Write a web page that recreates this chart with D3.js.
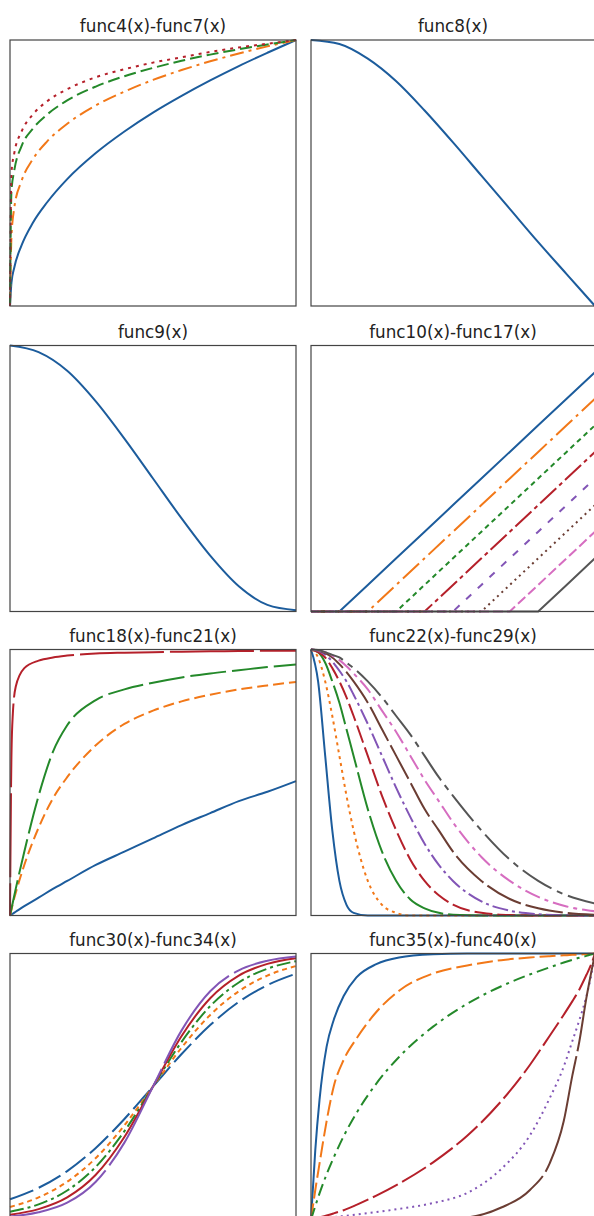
<!DOCTYPE html>
<html>
<head>
<meta charset="utf-8">
<script src="https://cdn.jsdelivr.net/npm/d3@7"></script>
<style>
  body { margin: 0; background: #fff; }
  svg { display: block; }
</style>
</head>
<body>
<svg id="chart" width="594" height="1216"></svg>
<script>
// ---- values (x and y both 0..1) ----

// func4(x)-func7(x)
const p1X   = [0, 0.005, 0.015, 0.04, 0.08, 0.13, 0.2, 0.3, 0.4, 0.5, 0.6, 0.7, 0.8, 0.9, 1];
const func4 = [0, 0.087, 0.145, 0.227, 0.313, 0.39, 0.477, 0.575, 0.656, 0.727, 0.79, 0.848, 0.902, 0.952, 1];
const func5 = [0, 0.26, 0.37, 0.469, 0.552, 0.619, 0.685, 0.754, 0.806, 0.85, 0.887, 0.92, 0.949, 0.976, 1];
const func6 = [0, 0.43, 0.51, 0.6, 0.667, 0.72, 0.773, 0.825, 0.864, 0.895, 0.922, 0.945, 0.965, 0.983, 1];
const func7 = [0, 0.5, 0.575, 0.655, 0.72, 0.77, 0.815, 0.86, 0.89, 0.915, 0.935, 0.955, 0.972, 0.986, 1];

// func8(x), func9(x)
const p2X   = [0, 0.1, 0.2, 0.3, 0.4, 0.5, 0.6, 0.7, 0.8, 0.9, 1];
const func8 = [1, 0.985, 0.93, 0.845, 0.735, 0.615, 0.49, 0.365, 0.24, 0.12, 0];
const func9 = [1, 0.975, 0.905, 0.79, 0.65, 0.5, 0.35, 0.21, 0.095, 0.025, 0.005];

// func10(x)-func17(x)
const p4X    = [0, 0.1, 0.2, 0.3, 0.4, 0.5, 0.6, 0.7, 0.8, 0.9, 1];
const func10 = [0, 0, 0.1, 0.2, 0.3, 0.4, 0.5, 0.6, 0.7, 0.8, 0.9];
const func11 = [0, 0, 0, 0.1, 0.2, 0.3, 0.4, 0.5, 0.6, 0.7, 0.8];
const func12 = [0, 0, 0, 0, 0.1, 0.2, 0.3, 0.4, 0.5, 0.6, 0.7];
const func13 = [0, 0, 0, 0, 0, 0.1, 0.2, 0.3, 0.4, 0.5, 0.6];
const func14 = [0, 0, 0, 0, 0, 0, 0.1, 0.2, 0.3, 0.4, 0.5];
const func15 = [0, 0, 0, 0, 0, 0, 0, 0.1, 0.2, 0.3, 0.4];
const func16 = [0, 0, 0, 0, 0, 0, 0, 0, 0.1, 0.2, 0.3];
const func17 = [0, 0, 0, 0, 0, 0, 0, 0, 0, 0.1, 0.2];

// func18(x)-func21(x)
const p5X    = [0, 0.005, 0.01, 0.02, 0.05, 0.1, 0.15, 0.2, 0.3, 0.4, 0.5, 0.6, 0.7, 0.8, 0.9, 1];
const func18 = [0, 0.004, 0.007, 0.014, 0.035, 0.067, 0.1, 0.13, 0.19, 0.24, 0.29, 0.34, 0.385, 0.43, 0.465, 0.505];
const func19 = [0, 0.022, 0.045, 0.085, 0.19, 0.33, 0.44, 0.52, 0.64, 0.72, 0.77, 0.805, 0.83, 0.85, 0.865, 0.878];
const func20 = [0, 0.025, 0.05, 0.1, 0.24, 0.45, 0.615, 0.715, 0.81, 0.85, 0.875, 0.895, 0.91, 0.922, 0.934, 0.944];
const func21 = [0, 0.6, 0.76, 0.86, 0.93, 0.958, 0.97, 0.977, 0.985, 0.988, 0.99, 0.992, 0.993, 0.994, 0.995, 0.995];

// func22(x)-func29(x)
const p6X    = [0, 0.025, 0.05, 0.075, 0.1, 0.125, 0.15, 0.2, 0.25, 0.3, 0.35, 0.4, 0.45, 0.5, 0.6, 0.7, 0.8, 0.9, 1];
const func22 = [1, 0.88, 0.6, 0.32, 0.13, 0.04, 0.01, 0, 0, 0, 0, 0, 0, 0, 0, 0, 0, 0, 0];
const func23 = [1, 0.97, 0.88, 0.75, 0.6, 0.45, 0.32, 0.13, 0.04, 0.01, 0, 0, 0, 0, 0, 0, 0, 0, 0];
const func24 = [1, 0.99, 0.95, 0.88, 0.8, 0.7, 0.6, 0.4, 0.24, 0.13, 0.06, 0.027, 0.01, 0.003, 0, 0, 0, 0, 0];
const func25 = [1, 0.99, 0.97, 0.93, 0.88, 0.82, 0.75, 0.6, 0.45, 0.32, 0.21, 0.13, 0.076, 0.041, 0.01, 0.002, 0, 0, 0];
const func26 = [1, 0.995, 0.98, 0.955, 0.92, 0.88, 0.83, 0.72, 0.6, 0.48, 0.37, 0.27, 0.19, 0.13, 0.053, 0.018, 0.005, 0.001, 0];
const func27 = [1, 0.996, 0.986, 0.97, 0.945, 0.915, 0.88, 0.8, 0.7, 0.6, 0.5, 0.4, 0.32, 0.24, 0.13, 0.062, 0.027, 0.01, 0.003];
const func28 = [1, 0.997, 0.99, 0.977, 0.96, 0.937, 0.91, 0.85, 0.77, 0.69, 0.6, 0.51, 0.43, 0.35, 0.22, 0.13, 0.07, 0.034, 0.016];
const func29 = [1, 0.998, 0.99, 0.98, 0.97, 0.95, 0.93, 0.88, 0.82, 0.75, 0.68, 0.6, 0.52, 0.45, 0.32, 0.21, 0.13, 0.076, 0.045];

// func30(x)-func34(x)
const p7X    = [0, 0.1, 0.2, 0.3, 0.4, 0.5, 0.6, 0.7, 0.8, 0.9, 1];
const func30 = [0.076, 0.119, 0.182, 0.269, 0.378, 0.5, 0.622, 0.731, 0.818, 0.881, 0.924];
const func31 = [0.047, 0.083, 0.142, 0.231, 0.354, 0.5, 0.646, 0.769, 0.858, 0.917, 0.953];
const func32 = [0.029, 0.057, 0.109, 0.198, 0.332, 0.5, 0.668, 0.802, 0.891, 0.943, 0.971];
const func33 = [0.018, 0.039, 0.083, 0.168, 0.31, 0.5, 0.69, 0.832, 0.917, 0.961, 0.982];
const func34 = [0.011, 0.027, 0.063, 0.142, 0.289, 0.5, 0.711, 0.858, 0.937, 0.973, 0.989];

// func35(x)-func40(x)
const p8X    = [0, 0.015, 0.03, 0.055, 0.08, 0.115, 0.16, 0.23, 0.31, 0.43, 0.55, 0.67, 0.77, 0.84, 0.89, 0.92, 0.945, 0.97, 0.985, 1];
const func35 = [0, 0.26, 0.45, 0.65, 0.75, 0.84, 0.91, 0.96, 0.985, 0.997, 1, 1, 1, 1, 1, 1, 1, 1, 1, 1];
const func36 = [0, 0.11, 0.21, 0.37, 0.5, 0.6, 0.68, 0.78, 0.86, 0.925, 0.955, 0.975, 0.985, 0.99, 0.993, 0.995, 0.996, 0.998, 0.999, 1];
const func37 = [0, 0.05, 0.098, 0.17, 0.233, 0.313, 0.4, 0.511, 0.611, 0.725, 0.811, 0.877, 0.921, 0.948, 0.966, 0.976, 0.984, 0.991, 0.996, 1];
const func38 = [0, 0.004, 0.008, 0.015, 0.023, 0.035, 0.055, 0.09, 0.135, 0.215, 0.315, 0.445, 0.58, 0.69, 0.77, 0.82, 0.865, 0.92, 0.955, 1];
const func39 = [0, 0.001, 0.003, 0.006, 0.009, 0.013, 0.019, 0.028, 0.04, 0.062, 0.1, 0.19, 0.315, 0.455, 0.575, 0.67, 0.75, 0.84, 0.91, 1];
const func40 = [0, 0, 0, 0, 0, 0, 0, 0, 0, 0.002, 0.008, 0.045, 0.11, 0.21, 0.37, 0.54, 0.67, 0.835, 0.92, 1];

// ---- styles ----
const C = {
  blue: "#1c5c9c", orange: "#f27818", green: "#24892a", red: "#b5202a",
  purple: "#8255b6", brown: "#6b3d33", pink: "#d66dc0", gray: "#555555"
};

const panels = [
  { title: "func4(x)-func7(x)", xs: p1X, series: [func4, func5, func6, func7],
    styles: [[C.blue, null], [C.orange, "14,5,3,5"], [C.green, "12,5"], [C.red, "3,5"]] },
  { title: "func8(x)", xs: p2X, series: [func8], styles: [[C.blue, null]] },
  { title: "func9(x)", xs: p2X, series: [func9], styles: [[C.blue, null]] },
  { title: "func10(x)-func17(x)", xs: p4X, linear: true,
    series: [func10, func11, func12, func13, func14, func15, func16, func17],
    styles: [[C.blue, null], [C.orange, "22,5,3,5"], [C.green, "5,4"], [C.red, "22,4,4,4"],
             [C.purple, "7,9"], [C.brown, "2,4"], [C.pink, "10,4"], [C.gray, null]] },
  { title: "func18(x)-func21(x)", xs: p5X, series: [func18, func19, func20, func21],
    styles: [[C.blue, null], [C.orange, "11,5"], [C.green, "36,6"], [C.red, "84,6", 52]] },
  { title: "func22(x)-func29(x)", xs: p6X,
    series: [func22, func23, func24, func25, func26, func27, func28, func29],
    styles: [[C.blue, null], [C.orange, "3,4"], [C.green, "40,5"], [C.red, "18,5"],
             [C.purple, "16,4,3,4"], [C.brown, "38,5"], [C.pink, "16,5,4,5"], [C.gray, "34,6,6,6"]] },
  { title: "func30(x)-func34(x)", xs: p7X, series: [func30, func31, func32, func33, func34],
    styles: [[C.blue, "25,6"], [C.orange, "5,4"], [C.green, "14,4,3,4"], [C.red, null], [C.purple, "110,6"]] },
  { title: "func35(x)-func40(x)", xs: p8X, series: [func35, func36, func37, func38, func39, func40],
    styles: [[C.blue, null], [C.orange, "16,5"], [C.green, "12,5,3,5"], [C.red, "28,5"],
             [C.purple, "2,4"], [C.brown, "120,5"]] }
];

// ---- layout ----
const colX = [10, 311], colW = [286, 284];
const rowY = [40, 345.5, 649.5, 953.5], panelH = 266;

const svg = d3.select("#chart");

panels.forEach((p, i) => {
  const col = i % 2, row = Math.floor(i / 2);
  const x0 = colX[col], w = colW[col], y0 = rowY[row];

  const x = d3.scaleLinear().domain([0, 1]).range([x0, x0 + w]);
  const y = d3.scaleLinear().domain([0, 1]).range([y0 + panelH, y0]);

  const g = svg.append("g");

  const line = d3.line()
    .x((d, j) => x(p.xs[j]))
    .y(d => y(d))
    .curve(p.linear ? d3.curveLinear : d3.curveMonotoneX);

  g.selectAll("path.curve")
    .data(p.series)
    .join("path")
    .attr("class", "curve")
    .attr("fill", "none")
    .attr("stroke", (d, k) => p.styles[k][0])
    .attr("stroke-width", 2)
    .attr("stroke-dasharray", (d, k) => p.styles[k][1])
    .attr("stroke-dashoffset", (d, k) => p.styles[k][2] || 0)
    .attr("d", line);

  // frame on top, like matplotlib spines
  g.append("rect")
    .attr("x", x0).attr("y", y0)
    .attr("width", w).attr("height", panelH)
    .attr("fill", "none")
    .attr("stroke", "#444")
    .attr("stroke-width", 1.2);

  g.append("text")
    .attr("x", x0 + w / 2)
    .attr("y", y0 - 8)
    .attr("text-anchor", "middle")
    .style("font-family", "DejaVu Sans, sans-serif")
    .style("font-size", "16.8px")
    .attr("fill", "#222")
    .text(p.title);
});
</script>
</body>
</html>
